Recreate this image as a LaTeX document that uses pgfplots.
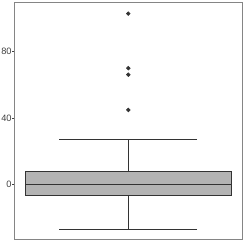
\documentclass[border=0pt]{standalone}
\usepackage{pgfplots}
\pgfplotsset{compat=1.18}
\usepgfplotslibrary{statistics}
\usepackage{fontspec}
\setmainfont{Liberation Sans}
\definecolor{boxfill}{HTML}{B3B3B3}
\definecolor{boxline}{HTML}{333333}
\definecolor{framec}{HTML}{858585}
\definecolor{textc}{HTML}{404040}
\begin{document}
\begin{tikzpicture}
\begin{axis}[
  scale only axis,
  width=228bp, height=236.6bp,
  xmin=0, xmax=2,
  ymin=-33.2, ymax=109.5,
  xtick=\empty,
  ytick={0,40,80},
  ytick pos=left,
  tick align=outside,
  major tick length=2bp,
  ytick style={textc, line width=0.5bp},
  axis line style={framec, line width=1bp},
  tick label style={font=\fontsize{9.3}{11}\selectfont, text=textc},
  yticklabel style={inner sep=0.5bp},
  /pgf/number format/assume math mode=true,
  boxplot/draw direction=y,
  clip=false,
]
\addplot+[
  boxplot prepared={
    draw position=1,
    lower whisker=-27.4,
    lower quartile=-6.6,
    median=-0.2,
    upper quartile=7.6,
    upper whisker=27.1,
    box extend=1.81,
    whisker extend=1.21,
  },
  draw=boxline, line width=0.7bp, fill=boxfill, solid,
  mark=*, mark size=1.8bp, mark options={fill=boxline, draw=boxline},
] table[row sep=\\, y index=0] {102.9\\ 70.0\\ 66.1\\ 44.8\\};
\end{axis}
\path (current axis.south west) ++(-14.3bp,-5.7bp) (current axis.north east) ++(2.7bp,2.7bp);
\end{tikzpicture}
\end{document}
